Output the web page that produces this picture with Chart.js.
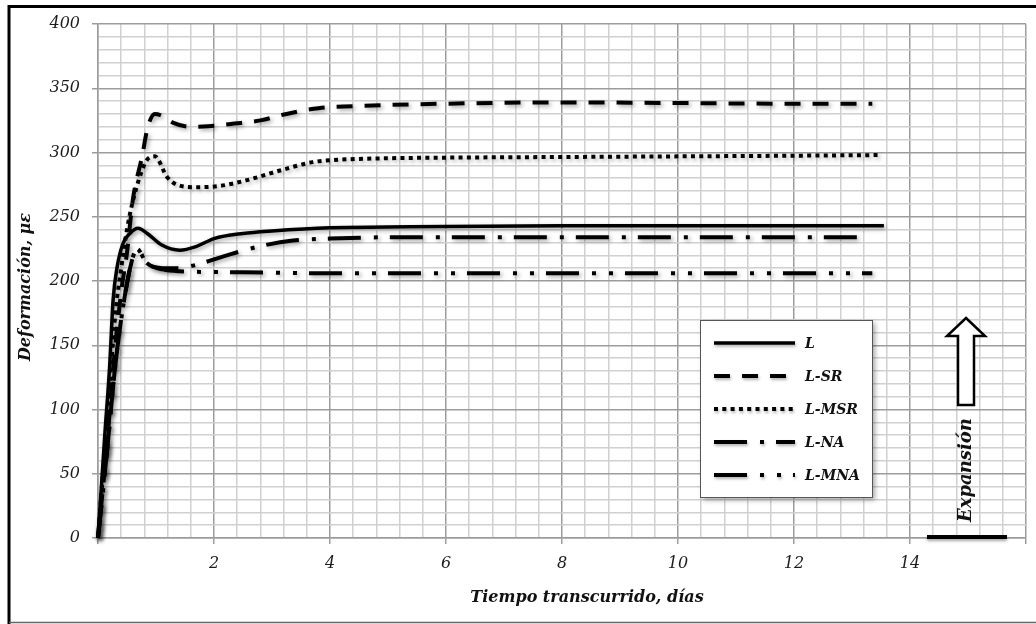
<!DOCTYPE html>
<html>
<head>
<meta charset="utf-8">
<script src="https://cdn.jsdelivr.net/npm/chart.js@4.4.1/dist/chart.umd.min.js"></script>
<style>
  html, body { margin: 0; padding: 0; background: #fff; }
  #wrap { width: 1036px; height: 624px; }
</style>
</head>
<body>
<div id="wrap"><canvas id="c" width="1036" height="624"></canvas></div>
<script>
// Strain (µε) versus elapsed time (days) for the five mixes
const seriesNames = ['L', 'L-SR', 'L-MSR', 'L-NA', 'L-MNA'];

const daysL   = [0, 0.12, 0.2, 0.26, 0.33, 0.43, 0.55, 0.69, 0.85, 1.1, 1.41, 1.7, 2.0, 2.5, 3.0, 4.0, 5.0, 6.0, 8.0, 10.0, 12.0, 13.55];
const strainL = [0, 82, 133, 185, 211, 229, 237, 241, 237, 228, 224, 227, 233, 237, 239, 241.5, 242, 242.5, 243, 243, 243, 243];

const daysSR   = [0, 0.15, 0.29, 0.41, 0.5, 0.6, 0.76, 0.86, 0.98, 1.08, 1.3, 1.58, 1.9, 2.35, 2.8, 3.25, 3.8, 4.4, 5.0, 6.0, 8.0, 10.0, 12.0, 13.35];
const strainSR = [0, 70, 146, 195, 222, 263, 297, 320, 330, 329, 323, 320, 320.5, 322.5, 325, 330, 334.5, 336, 337, 338, 339, 338.5, 338, 338];

const daysMSR   = [0, 0.12, 0.22, 0.3, 0.4, 0.5, 0.6, 0.75, 0.84, 0.98, 1.19, 1.36, 1.7, 2.1, 2.57, 3.14, 3.7, 4.0, 5.0, 6.0, 8.0, 10.0, 12.0, 13.45];
const strainMSR = [0, 70, 130, 175, 210, 240, 262, 285, 294, 297, 281, 275, 273, 274, 278.5, 286, 292.5, 294, 295.5, 296, 296.5, 297, 297.5, 298];

const daysNA   = [0, 0.15, 0.3, 0.45, 0.58, 0.67, 0.84, 1.12, 1.36, 1.64, 2.15, 2.74, 3.36, 4.0, 5.0, 6.0, 8.0, 10.0, 12.0, 13.3];
const strainNA = [0, 65, 135, 185, 215, 225, 214, 210, 210, 212, 219, 226.5, 231.5, 233, 234, 234, 234, 234, 234, 234];

const daysMNA   = [0, 0.15, 0.3, 0.45, 0.58, 0.67, 0.84, 1.12, 1.4, 2.0, 3.0, 4.0, 6.0, 8.0, 10.0, 12.0, 13.35];
const strainMNA = [0, 65, 135, 185, 215, 225, 214, 209, 207.5, 207, 206.5, 206, 206, 206, 206, 206, 206];

const xTickLabels = [2, 4, 6, 8, 10, 12, 14];
const yTickLabels = [0, 50, 100, 150, 200, 250, 300, 350, 400];

const xTitle = 'Tiempo transcurrido, días';
const yTitle = 'Deformación, με';
const noteText = 'Expansión';

const pairs = (xs, ys) => xs.map((x, i) => ({ x: x, y: ys[i] }));

const serif = "'DejaVu Serif', 'Liberation Serif', serif";

const lineStyles = [
  { dash: [], width: 3.5 },
  { dash: [16, 12], width: 4 },
  { dash: [4, 4.3], width: 4 },
  { dash: [33, 13, 4, 12], width: 4 },
  { dash: [33, 13, 4, 13, 4, 12], width: 4 }
];

const allX = [daysL, daysSR, daysMSR, daysNA, daysMNA];
const allY = [strainL, strainSR, strainMSR, strainNA, strainMNA];

const datasets = seriesNames.map((name, i) => ({
  label: name,
  data: pairs(allX[i], allY[i]),
  borderColor: '#000',
  borderWidth: lineStyles[i].width,
  borderDash: lineStyles[i].dash,
  borderCapStyle: 'butt',
  pointRadius: 0,
  cubicInterpolationMode: 'monotone',
  fill: false,
  clip: false
}));

const isMultiple = (v, step) => Math.abs(v / step - Math.round(v / step)) < 1e-6;

// White page with the outer frame
const framePlugin = {
  id: 'frame',
  beforeDraw(chart) {
    const ctx = chart.ctx;
    ctx.save();
    ctx.fillStyle = '#fff';
    ctx.fillRect(0, 0, chart.width, chart.height);
    ctx.strokeStyle = '#000';
    ctx.lineWidth = 3;
    ctx.beginPath();
    ctx.moveTo(9, 624);
    ctx.lineTo(9, 6.5);
    ctx.lineTo(1036, 6.5);
    ctx.stroke();
    ctx.strokeStyle = '#666';
    ctx.lineWidth = 1.5;
    ctx.beginPath();
    ctx.moveTo(9, 622.5);
    ctx.lineTo(1036, 622.5);
    ctx.stroke();
    ctx.restore();
  }
};

// Soft drop shadow under the curves
const shadowPlugin = {
  id: 'lineShadow',
  beforeDatasetsDraw(chart) {
    const ctx = chart.ctx;
    ctx.save();
    ctx.shadowColor = 'rgba(0,0,0,0.35)';
    ctx.shadowBlur = 4;
    ctx.shadowOffsetX = 2;
    ctx.shadowOffsetY = 2;
  },
  afterDatasetsDraw(chart) {
    chart.ctx.restore();
  }
};

// Axis titles, legend box and the expansion marker
const annotatePlugin = {
  id: 'annotate',
  afterDraw(chart) {
    const ctx = chart.ctx;
    ctx.save();
    ctx.fillStyle = '#111';
    ctx.font = `italic bold 16px ${serif}`;
    ctx.textAlign = 'center';
    ctx.textBaseline = 'middle';
    ctx.fillText(xTitle, 587, 598);

    ctx.save();
    ctx.translate(26, 287);
    ctx.rotate(-Math.PI / 2);
    ctx.fillText(yTitle, 0, 0);
    ctx.restore();

    // legend
    const bx = 700, by = 320, bw = 172, bh = 177;
    ctx.save();
    ctx.shadowColor = 'rgba(0,0,0,0.35)';
    ctx.shadowBlur = 5;
    ctx.shadowOffsetX = 3;
    ctx.shadowOffsetY = 3;
    ctx.fillStyle = '#fff';
    ctx.fillRect(bx, by, bw, bh);
    ctx.restore();
    ctx.strokeStyle = '#555';
    ctx.lineWidth = 1;
    ctx.strokeRect(bx + 0.5, by + 0.5, bw, bh);

    const rows = [343, 376, 409, 442, 475];
    chart.data.datasets.forEach((ds, i) => {
      const y = rows[i];
      ctx.save();
      ctx.shadowColor = 'rgba(0,0,0,0.3)';
      ctx.shadowBlur = 3;
      ctx.shadowOffsetX = 1;
      ctx.shadowOffsetY = 2;
      ctx.strokeStyle = '#000';
      ctx.lineWidth = ds.borderWidth;
      ctx.setLineDash(ds.borderDash);
      ctx.beginPath();
      ctx.moveTo(714, y);
      ctx.lineTo(795, y);
      ctx.stroke();
      ctx.restore();
      ctx.fillStyle = '#111';
      ctx.font = `italic bold 14px ${serif}`;
      ctx.textAlign = 'left';
      ctx.textBaseline = 'middle';
      ctx.fillText(ds.label, 805, y + 1);
    });

    // hollow arrow
    ctx.beginPath();
    ctx.moveTo(966, 318);
    ctx.lineTo(985, 336);
    ctx.lineTo(974, 336);
    ctx.lineTo(974, 405);
    ctx.lineTo(958, 405);
    ctx.lineTo(958, 336);
    ctx.lineTo(947, 336);
    ctx.closePath();
    ctx.fillStyle = '#fff';
    ctx.fill();
    ctx.strokeStyle = '#000';
    ctx.lineWidth = 2.5;
    ctx.lineJoin = 'miter';
    ctx.stroke();

    ctx.save();
    ctx.translate(966, 470);
    ctx.rotate(-Math.PI / 2);
    ctx.fillStyle = '#111';
    ctx.font = `italic bold 18px ${serif}`;
    ctx.textAlign = 'center';
    ctx.textBaseline = 'middle';
    ctx.fillText(noteText, 0, 0);
    ctx.restore();

    ctx.save();
    ctx.shadowColor = 'rgba(0,0,0,0.35)';
    ctx.shadowBlur = 3;
    ctx.shadowOffsetY = 2;
    ctx.strokeStyle = '#000';
    ctx.lineWidth = 4;
    ctx.beginPath();
    ctx.moveTo(927, 537);
    ctx.lineTo(1007, 537);
    ctx.stroke();
    ctx.restore();

    ctx.restore();
  }
};

const gridColor = (step) => (c) => isMultiple(c.tick.value, step) ? '#9c9c9c' : '#d0d0d0';
const tickMarkColor = (step) => (c) => isMultiple(c.tick.value, step) ? '#9c9c9c' : 'rgba(0,0,0,0)';

new Chart(document.getElementById('c'), {
  type: 'line',
  data: { datasets: datasets },
  plugins: [framePlugin, shadowPlugin, annotatePlugin],
  options: {
    responsive: false,
    animation: false,
    devicePixelRatio: 1,
    layout: { padding: { top: 24, right: 9, left: 0, bottom: 0 } },
    plugins: { legend: { display: false }, tooltip: { enabled: false } },
    scales: {
      x: {
        type: 'linear',
        min: 0,
        max: 16,
        afterFit(s) { s.height = 86; },
        ticks: {
          stepSize: 0.4,
          autoSkip: false,
          maxRotation: 0,
          padding: 10,
          color: '#1c1c1c',
          font: { family: serif, style: 'italic', size: 16 },
          callback(v) {
            const r = Math.round(v * 10) / 10;
            return xTickLabels.includes(r) ? String(r) : '';
          }
        },
        grid: { color: gridColor(2), lineWidth: 1.5, tickLength: 6, tickColor: tickMarkColor(2) },
        border: { color: '#9c9c9c', width: 1.5 }
      },
      y: {
        min: 0,
        max: 400,
        afterFit(s) { s.width = 98; },
        ticks: {
          stepSize: 10,
          autoSkip: false,
          padding: 12,
          color: '#1c1c1c',
          font: { family: serif, style: 'italic', size: 16 },
          callback(v) {
            const r = Math.round(v);
            return yTickLabels.includes(r) ? String(r) : '';
          }
        },
        grid: { color: gridColor(50), lineWidth: 1.5, tickLength: 6, tickColor: tickMarkColor(50) },
        border: { color: '#9c9c9c', width: 1.5 }
      }
    }
  }
});
</script>
</body>
</html>
